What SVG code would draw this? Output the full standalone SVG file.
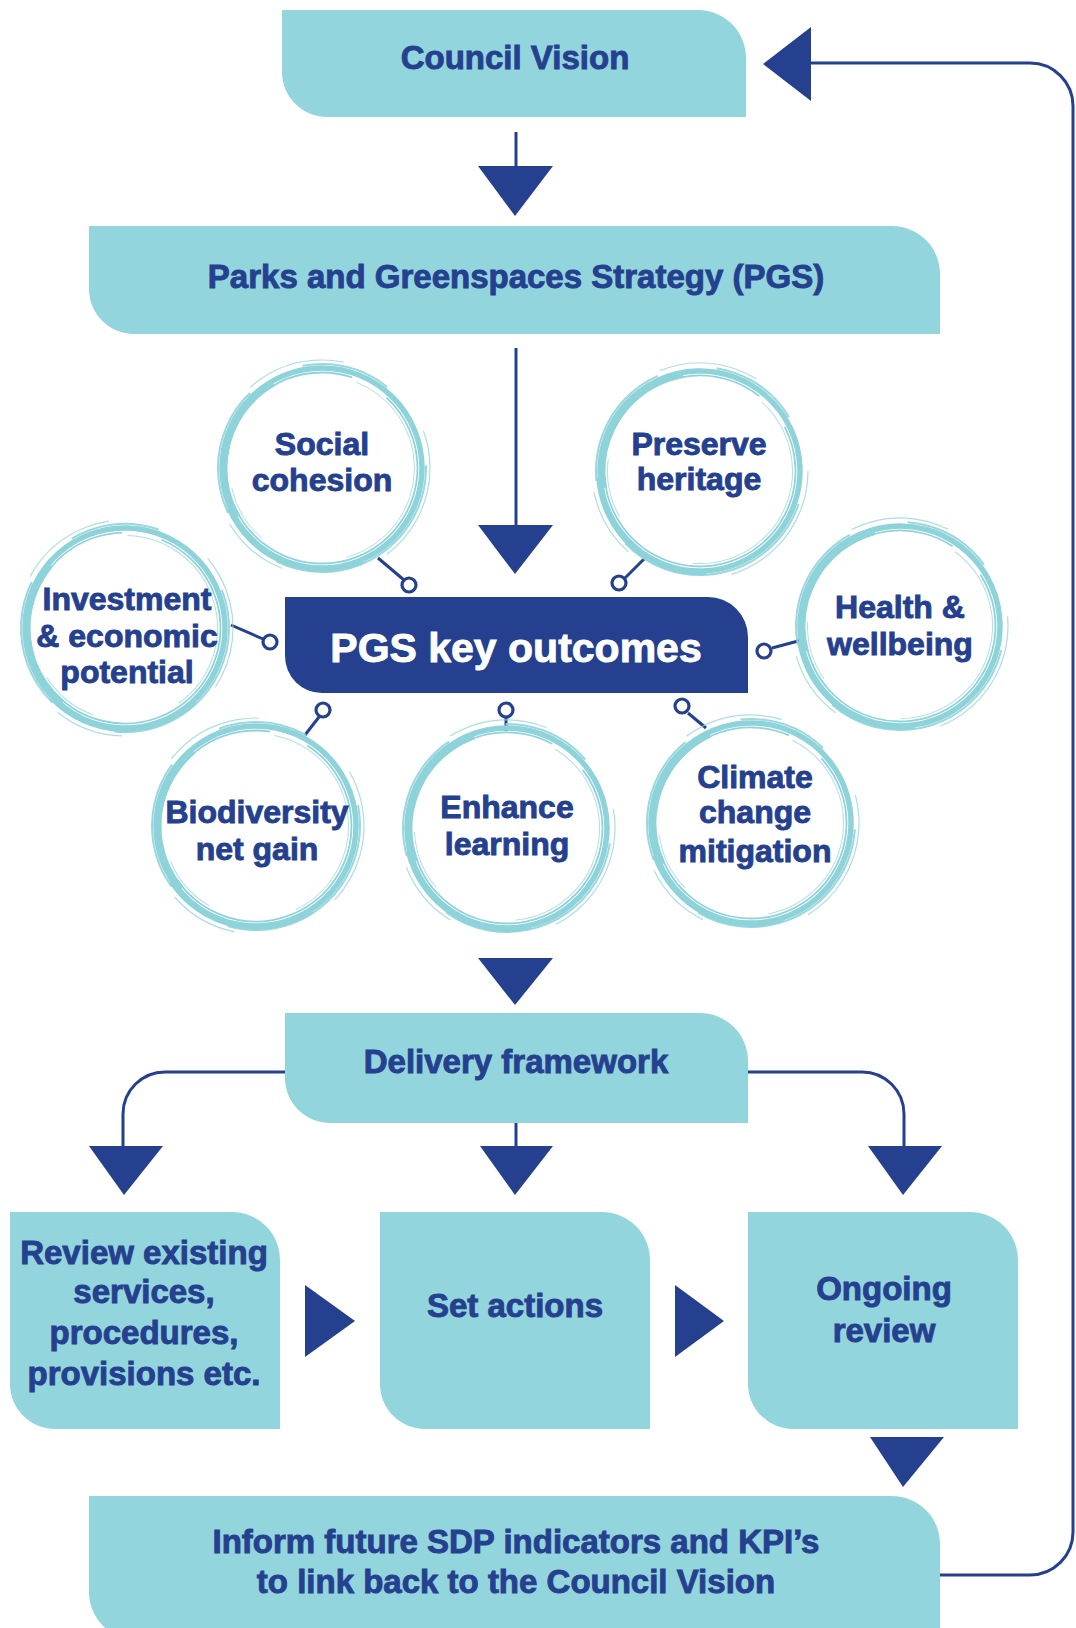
<svg xmlns="http://www.w3.org/2000/svg" xmlns:xlink="http://www.w3.org/1999/xlink" width="1076" height="1628" viewBox="0 0 1076 1628">
<style>
.box{fill:#93d5dc}
.dark{fill:#24408e}
.t{font-family:"Liberation Sans",Arial,sans-serif;font-weight:bold;fill:#24408e;stroke:#24408e;stroke-width:0.9;text-anchor:middle;font-size:33px}
.c{font-size:32px}
.w{fill:#ffffff;stroke:#ffffff;font-size:41px}
.line{fill:none;stroke:#24408e;stroke-width:3}
.head{fill:#24408e}
.pin{fill:#ffffff;stroke:#24408e;stroke-width:3.2}
</style>
<defs>
<g id="ring" fill="none" stroke="#8fd3da">
<circle r="100" stroke-width="5.5"/>
<path d="M -86.6 50 A 100 100 0 0 1 -100 0 A 100 100 0 0 1 -50 -86.6" stroke-width="5" transform="scale(0.97)"/>
<path d="M 40 91.6 A 100 100 0 0 1 -91.6 40" stroke-width="4" transform="scale(1.02)"/>
<circle r="95.5" stroke-width="1.8" stroke-dasharray="260 50 170 40 80 30"/>
<circle r="104" stroke-width="2" stroke-dasharray="210 70 130 60 90 90" opacity="0.9"/>
<circle r="108" stroke-width="1.2" stroke-dasharray="100 110 70 150" opacity="0.75"/>
<circle r="92.5" stroke-width="1" stroke-dasharray="120 90 60 200" opacity="0.7"/>
</g>
</defs>
<rect width="1076" height="1628" fill="#ffffff"/>

<g id="connectors">
<path class="line" d="M940 1575 H1030 A43 43 0 0 0 1073 1532 V106 A43 43 0 0 0 1030 63 H805"/>
<polygon class="head" points="763,64 811,27 811,101"/>
<path class="line" d="M516 132 V170"/>
<polygon class="head" points="478,166 553,166 515,216"/>
<path class="line" d="M516 348 V530"/>
<polygon class="head" points="478,525 553,525 515,574"/>
<polygon class="head" points="478,958 553,958 515,1005"/>
<path class="line" d="M285 1072 H165 A42 42 0 0 0 123 1114 V1150"/>
<polygon class="head" points="89,1146 163,1146 124,1195"/>
<path class="line" d="M516 1123 V1150"/>
<polygon class="head" points="480,1146 553,1146 515,1195"/>
<path class="line" d="M748 1072 H862 A42 42 0 0 1 904 1114 V1150"/>
<polygon class="head" points="868,1146 942,1146 903,1195"/>
<polygon class="head" points="305,1285 305,1357 355,1321"/>
<polygon class="head" points="675,1285 675,1357 724,1321"/>
<polygon class="head" points="870,1437 944,1437 903,1487"/>
<g id="pins">
<path class="line" d="M378 558 L404 580"/><circle class="pin" cx="409" cy="585" r="7"/>
<path class="line" d="M646 557 L625 578"/><circle class="pin" cx="619" cy="583" r="7"/>
<path class="line" d="M231 625 L263 639"/><circle class="pin" cx="270" cy="642" r="7"/>
<path class="line" d="M772 648 L802 640"/><circle class="pin" cx="764" cy="651" r="7"/>
<path class="line" d="M319 717 L305 735"/><circle class="pin" cx="323" cy="710" r="7"/>
<path class="line" d="M506 717 V731"/><circle class="pin" cx="506" cy="710" r="7"/>
<path class="line" d="M688 713 L706 728"/><circle class="pin" cx="682" cy="706" r="7"/>
</g>
</g>

<g id="council-vision">
<path class="box" d="M282 10 H698 A48 48 0 0 1 746 58 V117 H327 A45 45 0 0 1 282 72 Z"/>
<text class="t" x="515" y="69">Council Vision</text>
</g>

<g id="pgs">
<path class="box" d="M89 226 H892 A48 48 0 0 1 940 274 V334 H134 A45 45 0 0 1 89 289 Z"/>
<text class="t" x="516" y="288">Parks and Greenspaces Strategy (PGS)</text>
</g>

<g id="key-outcomes">
<path class="dark" d="M285 597 H708 A40 40 0 0 1 748 637 V693 H322 A37 37 0 0 1 285 656 Z"/>
<text class="t w" x="516" y="662">PGS key outcomes</text>
</g>

<g id="social-cohesion">
<use xlink:href="#ring" transform="translate(322,468) rotate(0)"/>
<text class="t c" x="322" y="455">Social</text>
<text class="t c" x="322" y="491">cohesion</text>
</g>

<g id="preserve-heritage">
<use xlink:href="#ring" transform="translate(700,471) rotate(20)"/>
<text class="t c" x="699" y="455">Preserve</text>
<text class="t c" x="699" y="490">heritage</text>
</g>

<g id="investment">
<use xlink:href="#ring" transform="translate(125,628) rotate(-20)"/>
<text class="t c" x="127" y="610">Investment</text>
<text class="t c" x="127" y="647">&amp; economic</text>
<text class="t c" x="127" y="683">potential</text>
</g>

<g id="health-wellbeing">
<use xlink:href="#ring" transform="translate(900,626) rotate(15)"/>
<text class="t c" x="900" y="618">Health &amp;</text>
<text class="t c" x="900" y="655">wellbeing</text>
</g>

<g id="biodiversity">
<use xlink:href="#ring" transform="translate(256,826) rotate(-10)"/>
<text class="t c" x="257" y="823">Biodiversity</text>
<text class="t c" x="257" y="860">net gain</text>
</g>

<g id="enhance-learning">
<use xlink:href="#ring" transform="translate(507,828) rotate(10)"/>
<text class="t c" x="507" y="818">Enhance</text>
<text class="t c" x="507" y="855">learning</text>
</g>

<g id="climate">
<use xlink:href="#ring" transform="translate(751,823) rotate(5)"/>
<text class="t c" x="755" y="788">Climate</text>
<text class="t c" x="755" y="823">change</text>
<text class="t c" x="755" y="862">mitigation</text>
</g>

<g id="delivery-framework">
<path class="box" d="M285 1013 H700 A48 48 0 0 1 748 1061 V1123 H330 A45 45 0 0 1 285 1078 Z"/>
<text class="t" x="516" y="1073">Delivery framework</text>
</g>

<g id="review-existing">
<path class="box" d="M10 1212 H232 A48 48 0 0 1 280 1260 V1429 H55 A45 45 0 0 1 10 1384 Z"/>
<text class="t" x="144" y="1264">Review existing</text>
<text class="t" x="144" y="1303">services,</text>
<text class="t" x="144" y="1344">procedures,</text>
<text class="t" x="144" y="1385">provisions etc.</text>
</g>

<g id="set-actions">
<path class="box" d="M380 1212 H602 A48 48 0 0 1 650 1260 V1429 H425 A45 45 0 0 1 380 1384 Z"/>
<text class="t" x="515" y="1317">Set actions</text>
</g>

<g id="ongoing-review">
<path class="box" d="M748 1212 H970 A48 48 0 0 1 1018 1260 V1429 H793 A45 45 0 0 1 748 1384 Z"/>
<text class="t" x="884" y="1300">Ongoing</text>
<text class="t" x="884" y="1342">review</text>
</g>

<g id="inform-future">
<path class="box" d="M89 1496 H892 A48 48 0 0 1 940 1544 V1640 H137 A48 48 0 0 1 89 1592 Z"/>
<text class="t" x="516" y="1553">Inform future SDP indicators and KPI’s</text>
<text class="t" x="516" y="1593">to link back to the Council Vision</text>
</g>
</svg>
